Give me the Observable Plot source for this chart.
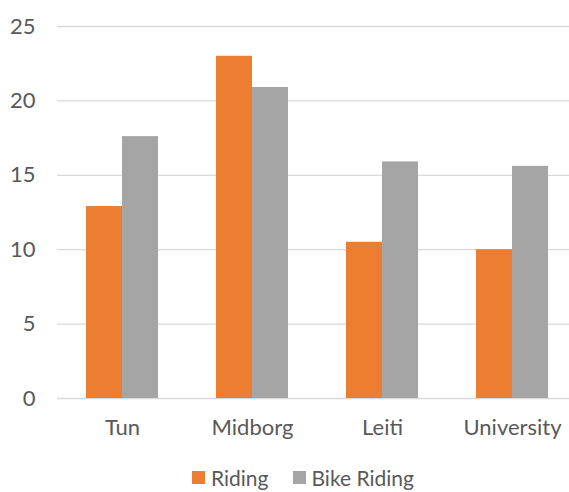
<!DOCTYPE html>
<html>
<head>
<meta charset="utf-8">
<script src="https://cdn.jsdelivr.net/npm/d3@7"></script>
<script src="https://cdn.jsdelivr.net/npm/@observablehq/plot@0.6"></script>
<style>
  html, body { margin: 0; padding: 0; background: #fff; overflow: hidden; }
  #chart { position: relative; width: 569px; height: 492px; overflow: hidden; font-family: Lato, sans-serif; color: #595959; }
  #chart svg { display: block; overflow: hidden; }
  .legend { position: absolute; left: 192px; top: 465px; display: flex; align-items: center; font-size: 21px; line-height: 25px; white-space: nowrap; }
  .legend .item { display: flex; align-items: center; margin-right: 24px; }
  .legend .swatch { width: 13px; height: 13px; margin-right: 6px; }
</style>
</head>
<body>
<div id="chart"></div>
<script>
// Trip counts per location, two series
const categories = ["Tun", "Midborg", "Leiti", "University"];
const seriesNames = ["Riding", "Bike Riding"];
const riding = [12.9, 23.0, 10.5, 10.0];
const bikeRiding = [17.6, 20.9, 15.9, 15.6];
const yTicks = [0, 5, 10, 15, 20, 25];
const seriesColors = ["#ED7D31", "#A5A5A5"];

const rows = categories.flatMap((c, i) => [
  {category: c, series: seriesNames[0], value: riding[i]},
  {category: c, series: seriesNames[1], value: bikeRiding[i]}
]);

const chart = Plot.plot({
  width: 569,
  height: 466,
  marginLeft: 57,
  marginRight: 0,
  marginTop: 26,
  marginBottom: 68,
  style: {fontFamily: "Lato, sans-serif", fontSize: "22px", color: "#595959", background: "#fff"},
  fx: {domain: categories, range: [56, 577], padding: 0, label: null, axis: null},
  x: {domain: seriesNames, paddingInner: 0, paddingOuter: 0.764, axis: null},
  y: {domain: [0, 25], label: null},
  color: {domain: seriesNames, range: seriesColors},
  marks: [
    Plot.gridY(yTicks, {stroke: "#D9D9D9", strokeOpacity: 1, strokeWidth: 1.3}),
    Plot.barY(rows, {fx: "category", x: "series", y: "value", fill: "series"}),
    Plot.axisY(yTicks, {tickSize: 0, tickPadding: 22, label: null, fontSize: 22}),
    Plot.axisFx({anchor: "bottom", tickSize: 0, tickPadding: 21, label: null, fontSize: 22})
  ]
});

const root = document.getElementById("chart");
root.appendChild(chart);

// Legend below the plot
const legend = document.createElement("div");
legend.className = "legend";
seriesNames.forEach((name, i) => {
  const item = document.createElement("div");
  item.className = "item";
  const sw = document.createElement("span");
  sw.className = "swatch";
  sw.style.background = seriesColors[i];
  const label = document.createElement("span");
  label.textContent = name;
  item.appendChild(sw);
  item.appendChild(label);
  legend.appendChild(item);
});
root.appendChild(legend);
</script>
</body>
</html>
